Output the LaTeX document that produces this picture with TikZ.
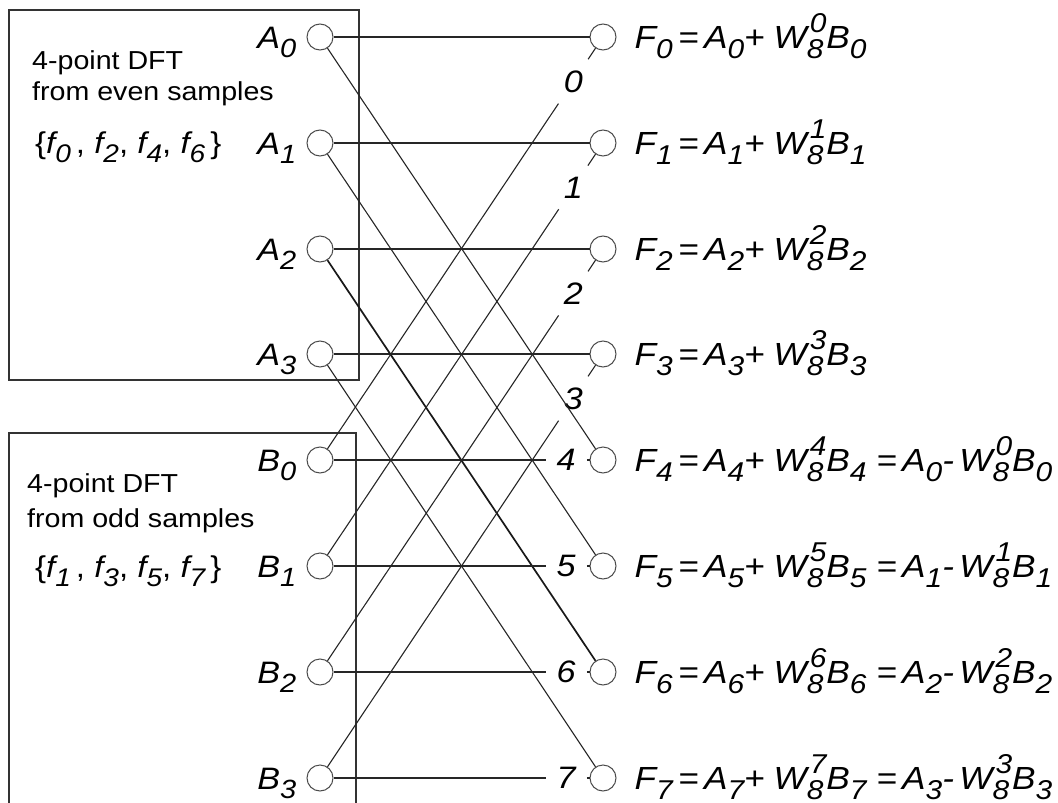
\documentclass[tikz,border=0pt]{standalone}
\usepackage{fontspec}
\setmainfont{Liberation Sans}[FakeStretch=1.1]
\usepackage{graphicx}
\usepackage{tikz}
\usetikzlibrary{calc}

% lowered / raised indices
\newcommand{\lo}[1]{\raisebox{-0.32em}{\scalebox{0.85}{#1}}}
\newcommand{\hi}[1]{\raisebox{0.48em}{\scalebox{0.85}{#1}}}
\newcommand{\tw}[1]{W\rlap{\kern0.09em\hi{#1}}\lo{8}\kern0.09em}
\newcommand{\pl}{+\kern0.28em}

\begin{document}
\begin{tikzpicture}[x=1pt, y=-1pt,
    port/.style={draw=black!70, circle, fill=white, minimum size=26pt, inner sep=0pt, line width=1pt},
    wire/.style={draw=black!85, line width=1.1pt},
    heavy/.style={draw=black!90, line width=1.7pt},
    frame/.style={draw=black!80, line width=1.1pt},
    lab/.style={font=\fontsize{31}{37}\selectfont\itshape, inner sep=0pt, anchor=base east},
    eq/.style={font=\fontsize{32}{38}\selectfont\itshape, inner sep=0pt, anchor=base west},
    weight/.style={font=\fontsize{31}{37}\selectfont\itshape, inner sep=11pt},
    note/.style={font=\fontsize{26}{31}\selectfont, inner sep=0pt, anchor=base west},
    setlist/.style={font=\fontsize{30}{36}\selectfont, inner sep=0pt, anchor=base west},
]
\useasboundingbox (0,0) rectangle (1058,803);

% Boxes of the two half-size DFTs
\draw[frame] (9,10) rectangle (359,380);
\draw[frame] (9,803) -- (9,433) -- (356,433) -- (356,803);

\node[note] (even1) at (32,69) {4-point DFT};
\node[note] (even2) at (32,100) {from even samples};
\node[setlist] (evenset) at (35,153) {\{\textit{f\lo{0}}\,, \textit{f\lo{2}}, \textit{f\lo{4}}, \textit{f\lo{6}}\,\}};
\node[note] (odd1) at (27,492) {4-point DFT};
\node[note] (odd2) at (27,527) {from odd samples};
\node[setlist] (oddset) at (35,577) {\{\textit{f\lo{1}}\,, \textit{f\lo{3}}, \textit{f\lo{5}}, \textit{f\lo{7}}\,\}};

% Inputs
\node[port] (A0) at (320,37) {};
\node[port] (A1) at (320,143) {};
\node[port] (A2) at (320,249) {};
\node[port] (A3) at (320,354) {};
\node[port] (B0) at (320,460) {};
\node[port] (B1) at (320,566) {};
\node[port] (B2) at (320,672) {};
\node[port] (B3) at (320,778) {};

% Outputs
\node[port] (F0) at (603,37) {};
\node[port] (F1) at (603,143) {};
\node[port] (F2) at (603,249) {};
\node[port] (F3) at (603,354) {};
\node[port] (F4) at (603,460) {};
\node[port] (F5) at (603,566) {};
\node[port] (F6) at (603,672) {};
\node[port] (F7) at (603,778) {};

% Input labels
\node[lab] (lA0) at ($(A0.west)+(-10,11)$) {A\lo{0}};
\node[lab] (lA1) at ($(A1.west)+(-10,11)$) {A\lo{1}};
\node[lab] (lA2) at ($(A2.west)+(-10,11)$) {A\lo{2}};
\node[lab] (lA3) at ($(A3.west)+(-10,11)$) {A\lo{3}};
\node[lab] (lB0) at ($(B0.west)+(-10,11)$) {B\lo{0}};
\node[lab] (lB1) at ($(B1.west)+(-10,11)$) {B\lo{1}};
\node[lab] (lB2) at ($(B2.west)+(-10,11)$) {B\lo{2}};
\node[lab] (lB3) at ($(B3.west)+(-10,11)$) {B\lo{3}};

% Twiddle exponents
\node[weight] (w0) at ($(F0)!0.105!(B0)$) {0};
\node[weight] (w1) at ($(F1)!0.105!(B1)$) {1};
\node[weight] (w2) at ($(F2)!0.105!(B2)$) {2};
\node[weight] (w3) at ($(F3)!0.105!(B3)$) {3};
\node[weight] (w4) at ($(F4)!0.13!(B0)$) {4};
\node[weight] (w5) at ($(F5)!0.13!(B1)$) {5};
\node[weight] (w6) at ($(F6)!0.13!(B2)$) {6};
\node[weight] (w7) at ($(F7)!0.13!(B3)$) {7};

% Butterflies
\draw[wire] (A0) -- (F0);
\draw[wire] (A1) -- (F1);
\draw[wire] (A2) -- (F2);
\draw[wire] (A3) -- (F3);
\draw[wire] (A0) -- (F4);
\draw[wire] (A1) -- (F5);
\draw[heavy] (A2) -- (F6);
\draw[wire] (A3) -- (F7);
\draw[wire] (B0) -- (w0) -- (F0);
\draw[wire] (B1) -- (w1) -- (F1);
\draw[wire] (B2) -- (w2) -- (F2);
\draw[wire] (B3) -- (w3) -- (F3);
\draw[wire] (B0) -- (w4) -- (F4);
\draw[wire] (B1) -- (w5) -- (F5);
\draw[wire] (B2) -- (w6) -- (F6);
\draw[wire] (B3) -- (w7) -- (F7);

% Output equations
\node[eq] (e0) at ($(F0.east)+(18,11)$) {F\lo{0}\,=\,A\lo{0}\pl\tw{0}B\lo{0}};
\node[eq] (e1) at ($(F1.east)+(18,11)$) {F\lo{1}\,=\,A\lo{1}\pl\tw{1}B\lo{1}};
\node[eq] (e2) at ($(F2.east)+(18,11)$) {F\lo{2}\,=\,A\lo{2}\pl\tw{2}B\lo{2}};
\node[eq] (e3) at ($(F3.east)+(18,11)$) {F\lo{3}\,=\,A\lo{3}\pl\tw{3}B\lo{3}};
\node[eq] (e4) at ($(F4.east)+(18,11)$) {F\lo{4}\,=\,A\lo{4}\pl\tw{4}B\lo{4}\ =\,A\lo{0}-\,\tw{0}B\lo{0}};
\node[eq] (e5) at ($(F5.east)+(18,11)$) {F\lo{5}\,=\,A\lo{5}\pl\tw{5}B\lo{5}\ =\,A\lo{1}-\,\tw{1}B\lo{1}};
\node[eq] (e6) at ($(F6.east)+(18,11)$) {F\lo{6}\,=\,A\lo{6}\pl\tw{6}B\lo{6}\ =\,A\lo{2}-\,\tw{2}B\lo{2}};
\node[eq] (e7) at ($(F7.east)+(18,11)$) {F\lo{7}\,=\,A\lo{7}\pl\tw{7}B\lo{7}\ =\,A\lo{3}-\,\tw{3}B\lo{3}};

\end{tikzpicture}
\end{document}
